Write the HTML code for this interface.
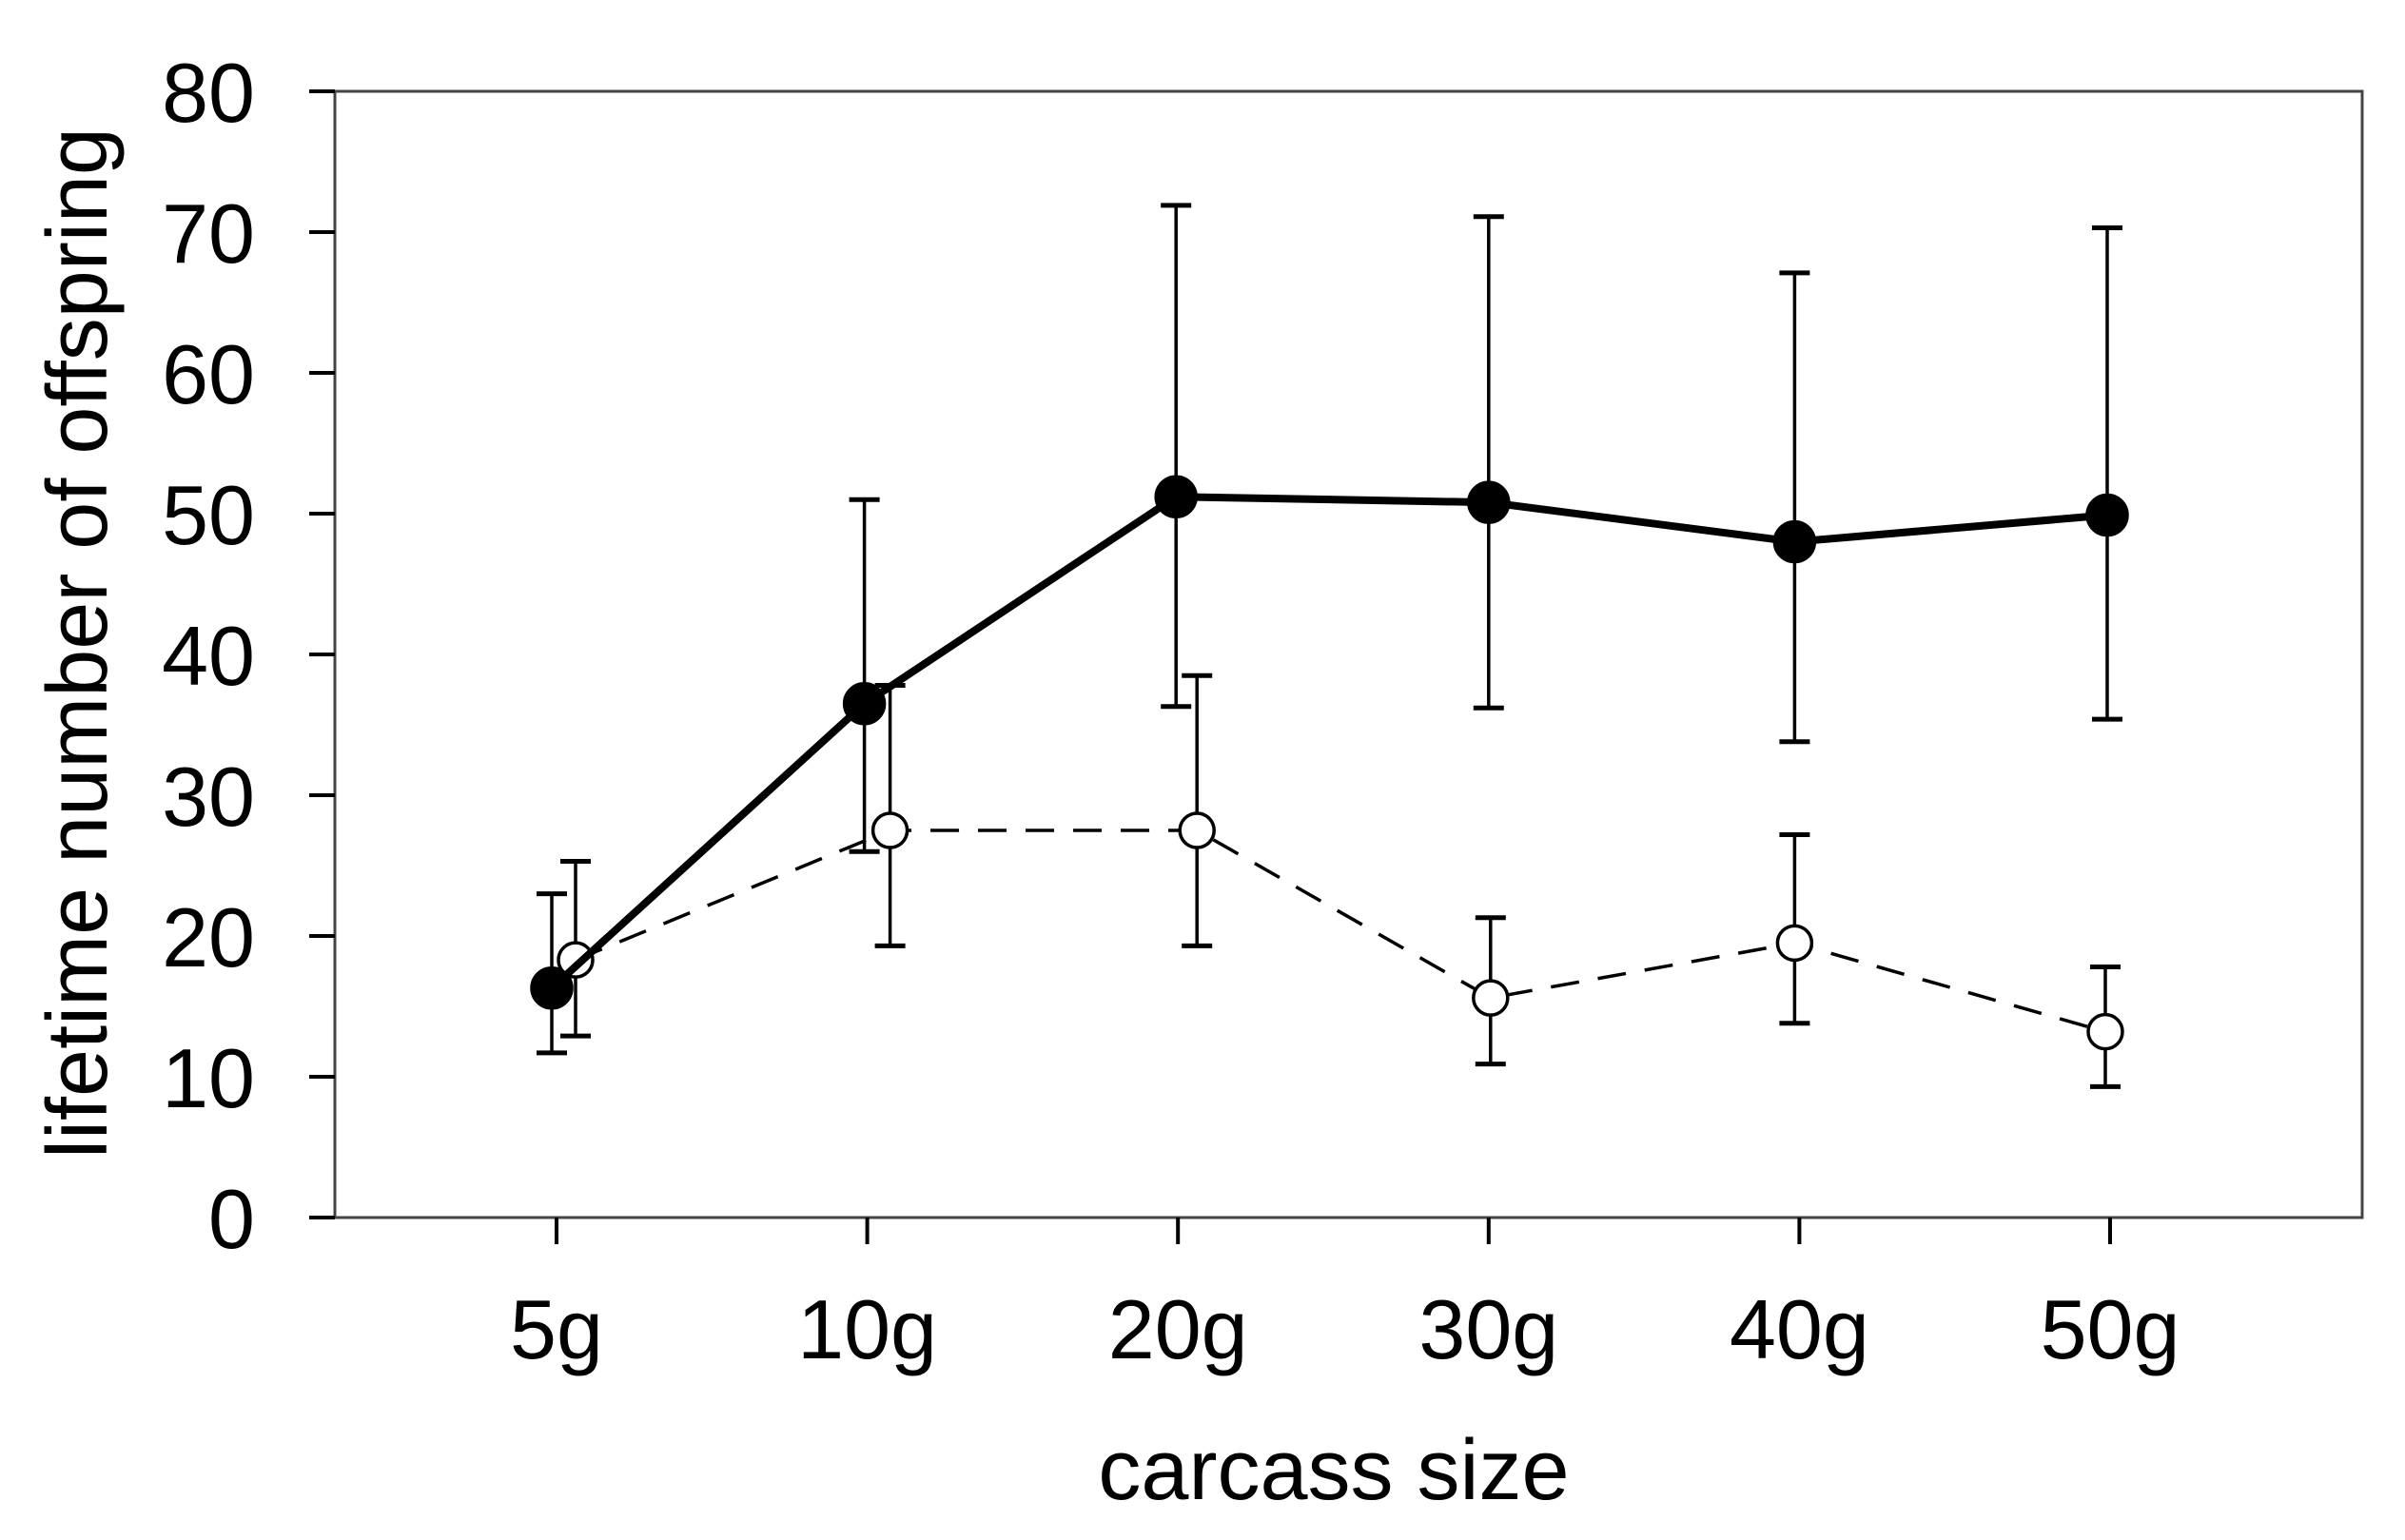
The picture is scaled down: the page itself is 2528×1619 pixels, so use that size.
<!DOCTYPE html>
<html><head><meta charset="utf-8"><style>
html,body{margin:0;padding:0;background:#fff;}
svg{display:block;}
text{font-family:"Liberation Sans",Arial,sans-serif;fill:#000;}
</style></head><body>
<svg id="chart" width="2528" height="1619" viewBox="0 0 2528 1619" xmlns="http://www.w3.org/2000/svg">
<g id="axes"></g>
<g id="series"></g>
<text x="1402" y="1576" font-size="90" text-anchor="middle">carcass size</text>
<text transform="translate(112,676) rotate(-90)" font-size="90" text-anchor="middle">lifetime number of offspring</text>
</svg>
<script>
const categories = ["5g","10g","20g","30g","40g","50g"];
const yTicks = [0,10,20,30,40,50,60,70,80];
const filledMean = [16.3,36.5,51.2,50.8,48.0,49.9];
const filledLow  = [11.7,26.0,36.3,36.2,33.8,35.4];
const filledHigh = [23.0,51.0,71.9,71.1,67.1,70.3];
const openMean = [18.3,27.5,27.5,15.6,19.5,13.2];
const openLow  = [12.9,19.3,19.3,10.9,13.8,9.3];
const openHigh = [25.3,37.8,38.5,21.3,27.2,17.8];

const NS="http://www.w3.org/2000/svg";
const L=352,R=2483,T=96,B=1280;
const x0=585, dx=326.6;
function xs(i){return x0+i*dx;}
function ys(v){return B-(v/80)*(B-T);}
const filledOff=[-5,-3,-2,0,-5,-3];
const openOff=[20,24,20,2,-5,-5];
function mk(tag,attrs,parent){const e=document.createElementNS(NS,tag);for(const k in attrs)e.setAttribute(k,attrs[k]);parent.appendChild(e);return e;}
const axes=document.getElementById('axes'), ser=document.getElementById('series');
let e=mk('rect',{x:L,y:T,width:R-L,height:B-T,fill:'none',stroke:'#444','stroke-width':3},axes);


yTicks.forEach(v=>{
  let t=mk('line',{x1:L-27,x2:L,y1:ys(v),y2:ys(v),stroke:'#000','stroke-width':4},axes);
  
  
  let l=mk('text',{x:268,y:ys(v)+32,'font-size':88,'text-anchor':'end'},axes);
  l.textContent=v;
  
  
});
categories.forEach((c,i)=>{
  let t=mk('line',{x1:xs(i),x2:xs(i),y1:B,y2:B+28,stroke:'#000','stroke-width':4},axes);
  
  
  let l=mk('text',{x:xs(i),y:1428,'font-size':88,'text-anchor':'middle'},axes);
  l.textContent=c;
  
  
});
function drawSeries(mean,low,high,off,filled,name){
  const pts=mean.map((v,i)=>[xs(i)+off[i],ys(v)]);
  let p=mk('polyline',{points:pts.map(q=>q.join(',')).join(' '),fill:'none',stroke:'#000','stroke-width':filled?8:3.5,'stroke-dasharray':filled?'none':'30,20'},ser);
  
  
  mean.forEach((v,i)=>{
    const x=pts[i][0];
    let g=mk('g',{},ser);
    
    
    mk('line',{x1:x,x2:x,y1:ys(low[i]),y2:ys(high[i]),stroke:'#000','stroke-width':3.5},g);
    mk('line',{x1:x-16,x2:x+16,y1:ys(low[i]),y2:ys(low[i]),stroke:'#000','stroke-width':5},g);
    mk('line',{x1:x-16,x2:x+16,y1:ys(high[i]),y2:ys(high[i]),stroke:'#000','stroke-width':5},g);
  });
  mean.forEach((v,i)=>{
    let c=mk('circle',{cx:pts[i][0],cy:pts[i][1],r:filled?21:18,fill:filled?'#000':'#fff',stroke:'#000','stroke-width':3.5},ser);
    
    
  });
}
drawSeries(openMean,openLow,openHigh,openOff,false,'open-series');
drawSeries(filledMean,filledLow,filledHigh,filledOff,true,'filled-series');
</script>
</body></html>
